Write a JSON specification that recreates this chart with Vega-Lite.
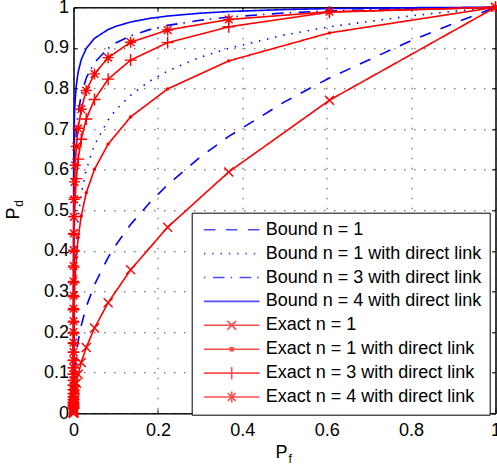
{
  "$schema": "https://vega.github.io/schema/vega-lite/v6.json",
  "width": 422,
  "height": 406,
  "autosize": {"type": "none"},
  "padding": {"left": 73.5, "top": 7.3, "right": 1.5, "bottom": 55.7},
  "background": "white",
  "datasets": {
    "d": [
      {"s": "Bound n = 1", "x": 1, "y": 1},
      {"s": "Bound n = 1", "x": 0.9, "y": 0.96},
      {"s": "Bound n = 1", "x": 0.8, "y": 0.918},
      {"s": "Bound n = 1", "x": 0.60653, "y": 0.826},
      {"s": "Bound n = 1", "x": 0.5, "y": 0.767},
      {"s": "Bound n = 1", "x": 0.36788, "y": 0.682},
      {"s": "Bound n = 1", "x": 0.3, "y": 0.631},
      {"s": "Bound n = 1", "x": 0.22313, "y": 0.563},
      {"s": "Bound n = 1", "x": 0.18, "y": 0.518},
      {"s": "Bound n = 1", "x": 0.13534, "y": 0.465},
      {"s": "Bound n = 1", "x": 0.1, "y": 0.414},
      {"s": "Bound n = 1", "x": 0.082085, "y": 0.384},
      {"s": "Bound n = 1", "x": 0.049787, "y": 0.317},
      {"s": "Bound n = 1", "x": 0.030197, "y": 0.262},
      {"s": "Bound n = 1", "x": 0.018316, "y": 0.216},
      {"s": "Bound n = 1", "x": 0.011109, "y": 0.178},
      {"s": "Bound n = 1", "x": 0.0067379, "y": 0.147},
      {"s": "Bound n = 1", "x": 0.0040868, "y": 0.122},
      {"s": "Bound n = 1", "x": 0.0024788, "y": 0.1},
      {"s": "Bound n = 1", "x": 0.0015034, "y": 0.083},
      {"s": "Bound n = 1", "x": 0.00091188, "y": 0.0685},
      {"s": "Bound n = 1", "x": 0.00055308, "y": 0.0565},
      {"s": "Bound n = 1", "x": 0.00033546, "y": 0.0467},
      {"s": "Bound n = 1", "x": 0.00012341, "y": 0.0318},
      {"s": "Bound n = 1", "x": 0.0000454, "y": 0.0217},
      {"s": "Bound n = 1", "x": 0.000016702, "y": 0.0148},
      {"s": "Bound n = 1", "x": 0.0000061442, "y": 0.0101},
      {"s": "Bound n = 1", "x": 0.0000022603, "y": 0.0069},
      {"s": "Bound n = 1", "x": 8.3153e-7, "y": 0.0047},
      {"s": "Bound n = 1", "x": 3.059e-7, "y": 0.0032},
      {"s": "Bound n = 1", "x": 1.1254e-7, "y": 0.0022},
      {"s": "Bound n = 1", "x": 1.523e-8, "y": 0.001},
      {"s": "Bound n = 1", "x": 2.06e-9, "y": 0.0005},
      {"s": "Bound n = 1", "x": 0, "y": 0},

      {"s": "Bound n = 1 with direct link", "x": 1, "y": 1},
      {"s": "Bound n = 1 with direct link", "x": 0.9, "y": 0.99},
      {"s": "Bound n = 1 with direct link", "x": 0.8, "y": 0.979},
      {"s": "Bound n = 1 with direct link", "x": 0.60653, "y": 0.952},
      {"s": "Bound n = 1 with direct link", "x": 0.5, "y": 0.932},
      {"s": "Bound n = 1 with direct link", "x": 0.36788, "y": 0.899},
      {"s": "Bound n = 1 with direct link", "x": 0.3, "y": 0.877},
      {"s": "Bound n = 1 with direct link", "x": 0.22313, "y": 0.843},
      {"s": "Bound n = 1 with direct link", "x": 0.18, "y": 0.818},
      {"s": "Bound n = 1 with direct link", "x": 0.13534, "y": 0.783},
      {"s": "Bound n = 1 with direct link", "x": 0.1, "y": 0.747},
      {"s": "Bound n = 1 with direct link", "x": 0.082085, "y": 0.7225},
      {"s": "Bound n = 1 with direct link", "x": 0.049787, "y": 0.661},
      {"s": "Bound n = 1 with direct link", "x": 0.030197, "y": 0.6},
      {"s": "Bound n = 1 with direct link", "x": 0.018316, "y": 0.54},
      {"s": "Bound n = 1 with direct link", "x": 0.011109, "y": 0.482},
      {"s": "Bound n = 1 with direct link", "x": 0.0067379, "y": 0.427},
      {"s": "Bound n = 1 with direct link", "x": 0.0040868, "y": 0.376},
      {"s": "Bound n = 1 with direct link", "x": 0.0024788, "y": 0.328},
      {"s": "Bound n = 1 with direct link", "x": 0.0015034, "y": 0.283},
      {"s": "Bound n = 1 with direct link", "x": 0.00091188, "y": 0.243},
      {"s": "Bound n = 1 with direct link", "x": 0.00055308, "y": 0.207},
      {"s": "Bound n = 1 with direct link", "x": 0.00033546, "y": 0.175},
      {"s": "Bound n = 1 with direct link", "x": 0.00012341, "y": 0.122},
      {"s": "Bound n = 1 with direct link", "x": 0.0000454, "y": 0.082},
      {"s": "Bound n = 1 with direct link", "x": 0.000016702, "y": 0.054},
      {"s": "Bound n = 1 with direct link", "x": 0.0000061442, "y": 0.034},
      {"s": "Bound n = 1 with direct link", "x": 0.0000022603, "y": 0.021},
      {"s": "Bound n = 1 with direct link", "x": 8.3153e-7, "y": 0.0123},
      {"s": "Bound n = 1 with direct link", "x": 3.059e-7, "y": 0.0071},
      {"s": "Bound n = 1 with direct link", "x": 1.1254e-7, "y": 0.004},
      {"s": "Bound n = 1 with direct link", "x": 1.523e-8, "y": 0.0011},
      {"s": "Bound n = 1 with direct link", "x": 2.06e-9, "y": 0.0003},
      {"s": "Bound n = 1 with direct link", "x": 0, "y": 0},

      {"s": "Bound n = 3 with direct link", "x": 1, "y": 1},
      {"s": "Bound n = 3 with direct link", "x": 0.9, "y": 0.9986},
      {"s": "Bound n = 3 with direct link", "x": 0.8, "y": 0.9967},
      {"s": "Bound n = 3 with direct link", "x": 0.60653, "y": 0.991},
      {"s": "Bound n = 3 with direct link", "x": 0.5, "y": 0.986},
      {"s": "Bound n = 3 with direct link", "x": 0.36788, "y": 0.976},
      {"s": "Bound n = 3 with direct link", "x": 0.3, "y": 0.968},
      {"s": "Bound n = 3 with direct link", "x": 0.22313, "y": 0.9555},
      {"s": "Bound n = 3 with direct link", "x": 0.18, "y": 0.945},
      {"s": "Bound n = 3 with direct link", "x": 0.13534, "y": 0.93},
      {"s": "Bound n = 3 with direct link", "x": 0.1, "y": 0.912},
      {"s": "Bound n = 3 with direct link", "x": 0.082085, "y": 0.899},
      {"s": "Bound n = 3 with direct link", "x": 0.049787, "y": 0.864},
      {"s": "Bound n = 3 with direct link", "x": 0.030197, "y": 0.826},
      {"s": "Bound n = 3 with direct link", "x": 0.018316, "y": 0.784},
      {"s": "Bound n = 3 with direct link", "x": 0.011109, "y": 0.74},
      {"s": "Bound n = 3 with direct link", "x": 0.0067379, "y": 0.694},
      {"s": "Bound n = 3 with direct link", "x": 0.0040868, "y": 0.647},
      {"s": "Bound n = 3 with direct link", "x": 0.0024788, "y": 0.6},
      {"s": "Bound n = 3 with direct link", "x": 0.0015034, "y": 0.553},
      {"s": "Bound n = 3 with direct link", "x": 0.00091188, "y": 0.506},
      {"s": "Bound n = 3 with direct link", "x": 0.00055308, "y": 0.46},
      {"s": "Bound n = 3 with direct link", "x": 0.00033546, "y": 0.416},
      {"s": "Bound n = 3 with direct link", "x": 0.00012341, "y": 0.334},
      {"s": "Bound n = 3 with direct link", "x": 0.0000454, "y": 0.262},
      {"s": "Bound n = 3 with direct link", "x": 0.000016702, "y": 0.2},
      {"s": "Bound n = 3 with direct link", "x": 0.0000061442, "y": 0.149},
      {"s": "Bound n = 3 with direct link", "x": 0.0000022603, "y": 0.109},
      {"s": "Bound n = 3 with direct link", "x": 8.3153e-7, "y": 0.077},
      {"s": "Bound n = 3 with direct link", "x": 3.059e-7, "y": 0.054},
      {"s": "Bound n = 3 with direct link", "x": 1.1254e-7, "y": 0.036},
      {"s": "Bound n = 3 with direct link", "x": 1.523e-8, "y": 0.015},
      {"s": "Bound n = 3 with direct link", "x": 2.06e-9, "y": 0.006},
      {"s": "Bound n = 3 with direct link", "x": 0, "y": 0},

      {"s": "Bound n = 4 with direct link", "x": 1, "y": 1},
      {"s": "Bound n = 4 with direct link", "x": 0.9, "y": 0.9996},
      {"s": "Bound n = 4 with direct link", "x": 0.8, "y": 0.999},
      {"s": "Bound n = 4 with direct link", "x": 0.60653, "y": 0.9968},
      {"s": "Bound n = 4 with direct link", "x": 0.5, "y": 0.9944},
      {"s": "Bound n = 4 with direct link", "x": 0.36788, "y": 0.9896},
      {"s": "Bound n = 4 with direct link", "x": 0.3, "y": 0.9855},
      {"s": "Bound n = 4 with direct link", "x": 0.22313, "y": 0.9785},
      {"s": "Bound n = 4 with direct link", "x": 0.18, "y": 0.9726},
      {"s": "Bound n = 4 with direct link", "x": 0.13534, "y": 0.9637},
      {"s": "Bound n = 4 with direct link", "x": 0.1, "y": 0.953},
      {"s": "Bound n = 4 with direct link", "x": 0.082085, "y": 0.9453},
      {"s": "Bound n = 4 with direct link", "x": 0.049787, "y": 0.9236},
      {"s": "Bound n = 4 with direct link", "x": 0.030197, "y": 0.8987},
      {"s": "Bound n = 4 with direct link", "x": 0.018316, "y": 0.871},
      {"s": "Bound n = 4 with direct link", "x": 0.011109, "y": 0.841},
      {"s": "Bound n = 4 with direct link", "x": 0.0067379, "y": 0.8086},
      {"s": "Bound n = 4 with direct link", "x": 0.0040868, "y": 0.7743},
      {"s": "Bound n = 4 with direct link", "x": 0.0024788, "y": 0.7386},
      {"s": "Bound n = 4 with direct link", "x": 0.0015034, "y": 0.7017},
      {"s": "Bound n = 4 with direct link", "x": 0.00091188, "y": 0.664},
      {"s": "Bound n = 4 with direct link", "x": 0.00055308, "y": 0.6258},
      {"s": "Bound n = 4 with direct link", "x": 0.00033546, "y": 0.5874},
      {"s": "Bound n = 4 with direct link", "x": 0.00012341, "y": 0.5115},
      {"s": "Bound n = 4 with direct link", "x": 0.0000454, "y": 0.438},
      {"s": "Bound n = 4 with direct link", "x": 0.000016702, "y": 0.3695},
      {"s": "Bound n = 4 with direct link", "x": 0.0000061442, "y": 0.3067},
      {"s": "Bound n = 4 with direct link", "x": 0.0000022603, "y": 0.2505},
      {"s": "Bound n = 4 with direct link", "x": 8.3153e-7, "y": 0.2013},
      {"s": "Bound n = 4 with direct link", "x": 3.059e-7, "y": 0.1592},
      {"s": "Bound n = 4 with direct link", "x": 1.1254e-7, "y": 0.1239},
      {"s": "Bound n = 4 with direct link", "x": 1.523e-8, "y": 0.0716},
      {"s": "Bound n = 4 with direct link", "x": 2.06e-9, "y": 0.0388},
      {"s": "Bound n = 4 with direct link", "x": 0, "y": 0},

      {"s": "Exact n = 1", "x": 1, "y": 1},
      {"s": "Exact n = 1", "x": 0.60653, "y": 0.7711},
      {"s": "Exact n = 1", "x": 0.36788, "y": 0.5945},
      {"s": "Exact n = 1", "x": 0.22313, "y": 0.4584},
      {"s": "Exact n = 1", "x": 0.13534, "y": 0.3535},
      {"s": "Exact n = 1", "x": 0.082085, "y": 0.2725},
      {"s": "Exact n = 1", "x": 0.049787, "y": 0.2101},
      {"s": "Exact n = 1", "x": 0.030197, "y": 0.162},
      {"s": "Exact n = 1", "x": 0.018316, "y": 0.1249},
      {"s": "Exact n = 1", "x": 0.011109, "y": 0.0963},
      {"s": "Exact n = 1", "x": 0.0067379, "y": 0.0743},
      {"s": "Exact n = 1", "x": 0.0040868, "y": 0.0573},
      {"s": "Exact n = 1", "x": 0.0024788, "y": 0.0442},
      {"s": "Exact n = 1", "x": 0.0015034, "y": 0.034},
      {"s": "Exact n = 1", "x": 0.00091188, "y": 0.0263},
      {"s": "Exact n = 1", "x": 0.00055308, "y": 0.0202},
      {"s": "Exact n = 1", "x": 0.00033546, "y": 0.0156},
      {"s": "Exact n = 1", "x": 0.00020347, "y": 0.012},
      {"s": "Exact n = 1", "x": 0.00012341, "y": 0.00928},
      {"s": "Exact n = 1", "x": 0.000074852, "y": 0.00715},
      {"s": "Exact n = 1", "x": 0.0000454, "y": 0.00552},
      {"s": "Exact n = 1", "x": 0.000027536, "y": 0.00425},
      {"s": "Exact n = 1", "x": 0.000016702, "y": 0.00328},
      {"s": "Exact n = 1", "x": 0.00001013, "y": 0.00253},
      {"s": "Exact n = 1", "x": 0.0000061442, "y": 0.00195},
      {"s": "Exact n = 1", "x": 0.0000037267, "y": 0.0015},
      {"s": "Exact n = 1", "x": 0.0000022603, "y": 0.00116},
      {"s": "Exact n = 1", "x": 0.000001371, "y": 0.00089},
      {"s": "Exact n = 1", "x": 8.3153e-7, "y": 0.00069},
      {"s": "Exact n = 1", "x": 5.0435e-7, "y": 0.00053},
      {"s": "Exact n = 1", "x": 3.059e-7, "y": 0.00041},

      {"s": "Exact n = 1 with direct link", "x": 1, "y": 1},
      {"s": "Exact n = 1 with direct link", "x": 0.60653, "y": 0.937},
      {"s": "Exact n = 1 with direct link", "x": 0.36788, "y": 0.868},
      {"s": "Exact n = 1 with direct link", "x": 0.22313, "y": 0.799},
      {"s": "Exact n = 1 with direct link", "x": 0.13534, "y": 0.73},
      {"s": "Exact n = 1 with direct link", "x": 0.082085, "y": 0.663},
      {"s": "Exact n = 1 with direct link", "x": 0.049787, "y": 0.601},
      {"s": "Exact n = 1 with direct link", "x": 0.030197, "y": 0.543},
      {"s": "Exact n = 1 with direct link", "x": 0.018316, "y": 0.486},
      {"s": "Exact n = 1 with direct link", "x": 0.011109, "y": 0.433},
      {"s": "Exact n = 1 with direct link", "x": 0.0067379, "y": 0.384},
      {"s": "Exact n = 1 with direct link", "x": 0.0040868, "y": 0.339},
      {"s": "Exact n = 1 with direct link", "x": 0.0024788, "y": 0.298},
      {"s": "Exact n = 1 with direct link", "x": 0.0015034, "y": 0.26},
      {"s": "Exact n = 1 with direct link", "x": 0.00091188, "y": 0.226},
      {"s": "Exact n = 1 with direct link", "x": 0.00055308, "y": 0.196},
      {"s": "Exact n = 1 with direct link", "x": 0.00033546, "y": 0.168},
      {"s": "Exact n = 1 with direct link", "x": 0.00020347, "y": 0.144},
      {"s": "Exact n = 1 with direct link", "x": 0.00012341, "y": 0.118},
      {"s": "Exact n = 1 with direct link", "x": 0.000074852, "y": 0.098},
      {"s": "Exact n = 1 with direct link", "x": 0.0000454, "y": 0.08},
      {"s": "Exact n = 1 with direct link", "x": 0.000027536, "y": 0.065},
      {"s": "Exact n = 1 with direct link", "x": 0.000016702, "y": 0.052},
      {"s": "Exact n = 1 with direct link", "x": 0.00001013, "y": 0.042},
      {"s": "Exact n = 1 with direct link", "x": 0.0000061442, "y": 0.033},
      {"s": "Exact n = 1 with direct link", "x": 0.0000037267, "y": 0.026},
      {"s": "Exact n = 1 with direct link", "x": 0.0000022603, "y": 0.02},
      {"s": "Exact n = 1 with direct link", "x": 0.000001371, "y": 0.015},
      {"s": "Exact n = 1 with direct link", "x": 8.3153e-7, "y": 0.011},
      {"s": "Exact n = 1 with direct link", "x": 5.0435e-7, "y": 0.008},
      {"s": "Exact n = 1 with direct link", "x": 3.059e-7, "y": 0.006},

      {"s": "Exact n = 3 with direct link", "x": 1, "y": 1},
      {"s": "Exact n = 3 with direct link", "x": 0.60653, "y": 0.988},
      {"s": "Exact n = 3 with direct link", "x": 0.36788, "y": 0.952},
      {"s": "Exact n = 3 with direct link", "x": 0.22313, "y": 0.913},
      {"s": "Exact n = 3 with direct link", "x": 0.13534, "y": 0.87},
      {"s": "Exact n = 3 with direct link", "x": 0.082085, "y": 0.823},
      {"s": "Exact n = 3 with direct link", "x": 0.049787, "y": 0.773},
      {"s": "Exact n = 3 with direct link", "x": 0.030197, "y": 0.725},
      {"s": "Exact n = 3 with direct link", "x": 0.018316, "y": 0.675},
      {"s": "Exact n = 3 with direct link", "x": 0.011109, "y": 0.626},
      {"s": "Exact n = 3 with direct link", "x": 0.0067379, "y": 0.578},
      {"s": "Exact n = 3 with direct link", "x": 0.0040868, "y": 0.531},
      {"s": "Exact n = 3 with direct link", "x": 0.0024788, "y": 0.485},
      {"s": "Exact n = 3 with direct link", "x": 0.0015034, "y": 0.441},
      {"s": "Exact n = 3 with direct link", "x": 0.00091188, "y": 0.399},
      {"s": "Exact n = 3 with direct link", "x": 0.00055308, "y": 0.36},
      {"s": "Exact n = 3 with direct link", "x": 0.00033546, "y": 0.322},
      {"s": "Exact n = 3 with direct link", "x": 0.00020347, "y": 0.287},
      {"s": "Exact n = 3 with direct link", "x": 0.00012341, "y": 0.255},
      {"s": "Exact n = 3 with direct link", "x": 0.000074852, "y": 0.225},
      {"s": "Exact n = 3 with direct link", "x": 0.0000454, "y": 0.197},
      {"s": "Exact n = 3 with direct link", "x": 0.000027536, "y": 0.172},
      {"s": "Exact n = 3 with direct link", "x": 0.000016702, "y": 0.15},
      {"s": "Exact n = 3 with direct link", "x": 0.00001013, "y": 0.13},
      {"s": "Exact n = 3 with direct link", "x": 0.0000061442, "y": 0.112},
      {"s": "Exact n = 3 with direct link", "x": 0.0000037267, "y": 0.096},
      {"s": "Exact n = 3 with direct link", "x": 0.0000022603, "y": 0.081},
      {"s": "Exact n = 3 with direct link", "x": 0.000001371, "y": 0.069},
      {"s": "Exact n = 3 with direct link", "x": 8.3153e-7, "y": 0.058},
      {"s": "Exact n = 3 with direct link", "x": 5.0435e-7, "y": 0.049},
      {"s": "Exact n = 3 with direct link", "x": 3.059e-7, "y": 0.041},
      {"s": "Exact n = 3 with direct link", "x": 1.8554e-7, "y": 0.034},
      {"s": "Exact n = 3 with direct link", "x": 1.1254e-7, "y": 0.028},
      {"s": "Exact n = 3 with direct link", "x": 6.8256e-8, "y": 0.023},
      {"s": "Exact n = 3 with direct link", "x": 4.1399e-8, "y": 0.019},
      {"s": "Exact n = 3 with direct link", "x": 2.511e-8, "y": 0.015},
      {"s": "Exact n = 3 with direct link", "x": 1.523e-8, "y": 0.0125},

      {"s": "Exact n = 4 with direct link", "x": 1, "y": 1},
      {"s": "Exact n = 4 with direct link", "x": 0.60653, "y": 0.989},
      {"s": "Exact n = 4 with direct link", "x": 0.36788, "y": 0.97},
      {"s": "Exact n = 4 with direct link", "x": 0.22313, "y": 0.944},
      {"s": "Exact n = 4 with direct link", "x": 0.13534, "y": 0.914},
      {"s": "Exact n = 4 with direct link", "x": 0.082085, "y": 0.876},
      {"s": "Exact n = 4 with direct link", "x": 0.049787, "y": 0.836},
      {"s": "Exact n = 4 with direct link", "x": 0.030197, "y": 0.795},
      {"s": "Exact n = 4 with direct link", "x": 0.018316, "y": 0.749},
      {"s": "Exact n = 4 with direct link", "x": 0.011109, "y": 0.702},
      {"s": "Exact n = 4 with direct link", "x": 0.0067379, "y": 0.657},
      {"s": "Exact n = 4 with direct link", "x": 0.0040868, "y": 0.611},
      {"s": "Exact n = 4 with direct link", "x": 0.0024788, "y": 0.57},
      {"s": "Exact n = 4 with direct link", "x": 0.0015034, "y": 0.527},
      {"s": "Exact n = 4 with direct link", "x": 0.00091188, "y": 0.484},
      {"s": "Exact n = 4 with direct link", "x": 0.00055308, "y": 0.443},
      {"s": "Exact n = 4 with direct link", "x": 0.00033546, "y": 0.402},
      {"s": "Exact n = 4 with direct link", "x": 0.00020347, "y": 0.363},
      {"s": "Exact n = 4 with direct link", "x": 0.00012341, "y": 0.325},
      {"s": "Exact n = 4 with direct link", "x": 0.000074852, "y": 0.29},
      {"s": "Exact n = 4 with direct link", "x": 0.0000454, "y": 0.258},
      {"s": "Exact n = 4 with direct link", "x": 0.000027536, "y": 0.227},
      {"s": "Exact n = 4 with direct link", "x": 0.000016702, "y": 0.2},
      {"s": "Exact n = 4 with direct link", "x": 0.00001013, "y": 0.174},
      {"s": "Exact n = 4 with direct link", "x": 0.0000061442, "y": 0.151},
      {"s": "Exact n = 4 with direct link", "x": 0.0000037267, "y": 0.131},
      {"s": "Exact n = 4 with direct link", "x": 0.0000022603, "y": 0.112},
      {"s": "Exact n = 4 with direct link", "x": 0.000001371, "y": 0.096},
      {"s": "Exact n = 4 with direct link", "x": 8.3153e-7, "y": 0.081},
      {"s": "Exact n = 4 with direct link", "x": 5.0435e-7, "y": 0.069},
      {"s": "Exact n = 4 with direct link", "x": 3.059e-7, "y": 0.058},
      {"s": "Exact n = 4 with direct link", "x": 1.8554e-7, "y": 0.048},
      {"s": "Exact n = 4 with direct link", "x": 1.1254e-7, "y": 0.04},
      {"s": "Exact n = 4 with direct link", "x": 6.8256e-8, "y": 0.033},
      {"s": "Exact n = 4 with direct link", "x": 4.1399e-8, "y": 0.027},
      {"s": "Exact n = 4 with direct link", "x": 2.511e-8, "y": 0.022},
      {"s": "Exact n = 4 with direct link", "x": 1.523e-8, "y": 0.018}
    ]
  },
  "data": {"name": "d"},
  "layer": [
    {
      "mark": {"type": "line", "strokeWidth": 1.6},
      "encoding": {
        "x": {"field": "x", "type": "quantitative", "scale": {"domain": [0, 1], "nice": false, "zero": false},
          "axis": {"orient": "bottom", "values": [0, 0.2, 0.4, 0.6, 0.8, 1], "format": "~g", "grid": true, "tickSize": -4, "labelPadding": 12,
            "title": "P", "titleX": 207.5, "titleY": 43.7, "titleAlign": "center", "titleBaseline": "alphabetic"}},
        "y": {"field": "y", "type": "quantitative", "scale": {"domain": [0, 1], "nice": false, "zero": false},
          "axis": {"orient": "left", "values": [0, 0.1, 0.2, 0.3, 0.4, 0.5, 0.6, 0.7, 0.8, 0.9, 1], "format": "~g", "grid": true, "tickSize": -4, "labelPadding": 9,
            "title": "P", "titleAngle": 270, "titleX": -55.2, "titleY": 205.7, "titleAlign": "center", "titleBaseline": "alphabetic"}},
        "color": {"field": "s", "type": "nominal", "title": null,
          "scale": {"domain": ["Bound n = 1", "Bound n = 1 with direct link", "Bound n = 3 with direct link", "Bound n = 4 with direct link", "Exact n = 1", "Exact n = 1 with direct link", "Exact n = 3 with direct link", "Exact n = 4 with direct link"],
            "range": ["#0000ff", "#0000ff", "#0000ff", "#0000ff", "#ff0000", "#ff0000", "#ff0000", "#ff0000"]}},
        "strokeDash": {"field": "s", "type": "nominal", "title": null,
          "scale": {"domain": ["Bound n = 1", "Bound n = 1 with direct link", "Bound n = 3 with direct link", "Bound n = 4 with direct link", "Exact n = 1", "Exact n = 1 with direct link", "Exact n = 3 with direct link", "Exact n = 4 with direct link"],
            "range": [[11.5, 10.5], [1.5, 6.8], [1.5, 7.5, 11.7, 6], [1, 0], [1, 0], [1, 0], [1, 0], [1, 0]]}}
      }
    },
    {
      "transform": [{"filter": "datum.s === 'Exact n = 1'"}],
      "mark": {"type": "point", "shape": "M-1,-1L1,1M-1,1L1,-1", "filled": false, "color": "#ff0000", "size": 81, "strokeWidth": 1.4, "opacity": 1},
      "encoding": {
        "x": {"field": "x", "type": "quantitative", "scale": {"domain": [0, 1], "nice": false, "zero": false}, "axis": null},
        "y": {"field": "y", "type": "quantitative", "scale": {"domain": [0, 1], "nice": false, "zero": false}, "axis": null}
      }
    },
    {
      "transform": [{"filter": "datum.s === 'Exact n = 1 with direct link'"}],
      "mark": {"type": "point", "shape": "circle", "filled": true, "color": "#ff0000", "size": 12, "opacity": 1},
      "encoding": {
        "x": {"field": "x", "type": "quantitative", "scale": {"domain": [0, 1], "nice": false, "zero": false}, "axis": null},
        "y": {"field": "y", "type": "quantitative", "scale": {"domain": [0, 1], "nice": false, "zero": false}, "axis": null}
      }
    },
    {
      "transform": [{"filter": "datum.s === 'Exact n = 3 with direct link'"}],
      "mark": {"type": "point", "shape": "M-1,0L1,0M0,-1L0,1", "filled": false, "color": "#ff0000", "size": 144, "strokeWidth": 1.4, "opacity": 1},
      "encoding": {
        "x": {"field": "x", "type": "quantitative", "scale": {"domain": [0, 1], "nice": false, "zero": false}, "axis": null},
        "y": {"field": "y", "type": "quantitative", "scale": {"domain": [0, 1], "nice": false, "zero": false}, "axis": null}
      }
    },
    {
      "transform": [{"filter": "datum.s === 'Exact n = 4 with direct link'"}],
      "mark": {"type": "point", "shape": "M-1,0L1,0M0,-1L0,1M-0.7,-0.7L0.7,0.7M-0.7,0.7L0.7,-0.7", "filled": false, "color": "#ff0000", "size": 121, "strokeWidth": 1.4, "opacity": 1},
      "encoding": {
        "x": {"field": "x", "type": "quantitative", "scale": {"domain": [0, 1], "nice": false, "zero": false}, "axis": null},
        "y": {"field": "y", "type": "quantitative", "scale": {"domain": [0, 1], "nice": false, "zero": false}, "axis": null}
      }
    },
    {
      "transform": [{"filter": "false"}],
      "mark": {"type": "point", "filled": false, "strokeWidth": 1.6},
      "encoding": {
        "x": {"field": "x", "type": "quantitative", "scale": {"domain": [0, 1], "nice": false, "zero": false}, "axis": null},
        "y": {"field": "y", "type": "quantitative", "scale": {"domain": [0, 1], "nice": false, "zero": false}, "axis": null},
        "shape": {"field": "s", "type": "nominal", "title": null,
          "scale": {"domain": ["Bound n = 1", "Bound n = 1 with direct link", "Bound n = 3 with direct link", "Bound n = 4 with direct link", "Exact n = 1", "Exact n = 1 with direct link", "Exact n = 3 with direct link", "Exact n = 4 with direct link"],
            "range": ["M-1,0L1,0", "M-1,0L1,0", "M-1,0L1,0", "M-1,0L1,0",
              "M-1,0L1,0M-0.16,-0.16L0.16,0.16M-0.16,0.16L0.16,-0.16",
              "M-1,0L1,0M-0.05,-0.05L0.05,-0.05L0.05,0.05L-0.05,0.05Z",
              "M-1,0L1,0M0,-0.22L0,0.22",
              "M-1,0L1,0M0,-0.2L0,0.2M-0.14,-0.14L0.14,0.14M-0.14,0.14L0.14,-0.14"]}}
      }
    },
    {
      "transform": [{"filter": "false"}],
      "mark": "point",
      "encoding": {
        "x": {"field": "x", "type": "quantitative", "scale": {"domain": [0, 1], "nice": false, "zero": false},
          "axis": {"orient": "top", "values": [0, 0.2, 0.4, 0.6, 0.8, 1], "labels": false, "grid": false, "tickSize": -4, "title": null}},
        "y": {"field": "y", "type": "quantitative", "scale": {"domain": [0, 1], "nice": false, "zero": false},
          "axis": {"orient": "right", "values": [0, 0.1, 0.2, 0.3, 0.4, 0.5, 0.6, 0.7, 0.8, 0.9, 1], "labels": false, "grid": false, "tickSize": -4, "title": null}}
      }
    },
    {
      "transform": [{"filter": "false"}],
      "mark": "point",
      "encoding": {
        "x": {"field": "x", "type": "quantitative", "scale": {"domain": [0, 1], "nice": false, "zero": false},
          "axis": {"orient": "bottom", "labels": false, "ticks": false, "grid": false, "domain": false,
            "title": "f", "titleFontSize": 12, "titleX": 214.5, "titleY": 48.7, "titleAlign": "left", "titleBaseline": "alphabetic"}},
        "y": {"field": "y", "type": "quantitative", "scale": {"domain": [0, 1], "nice": false, "zero": false},
          "axis": {"orient": "left", "labels": false, "ticks": false, "grid": false, "domain": false,
            "title": "d", "titleFontSize": 12, "titleAngle": 270, "titleX": -51.2, "titleY": 195.7, "titleAlign": "center", "titleBaseline": "alphabetic"}}
      }
    }
  ],
  "resolve": {"axis": {"x": "independent", "y": "independent"}},
  "config": {
    "font": "Liberation Sans",
    "view": {"stroke": "#000", "strokeWidth": 1},
    "axis": {
      "labelFont": "Liberation Sans", "titleFont": "Liberation Sans",
      "labelFontSize": 18, "titleFontSize": 18, "titleFontWeight": "normal",
      "labelColor": "#000", "titleColor": "#000", "domainColor": "#000", "tickColor": "#000",
      "domainWidth": 1, "tickWidth": 1, "labelFlush": false, "labelOverlap": false,
      "gridColor": "#000", "gridOpacity": 0.7, "gridDash": [1.5, 8.5], "gridWidth": 1
    },
    "legend": {
      "orient": "none", "legendX": 118.2, "legendY": 205.4,
      "fillColor": "#fff", "strokeColor": "#000", "padding": 8,
      "symbolSize": 3091, "symbolStrokeWidth": 1.6, "symbolOffset": 3, "symbolFillColor": "transparent",
      "labelOffset": 5, "labelFont": "Liberation Sans", "labelFontSize": 18, "labelColor": "#000", "labelLimit": 400,
      "clipHeight": 18, "rowPadding": 5.9
    }
  }
}
